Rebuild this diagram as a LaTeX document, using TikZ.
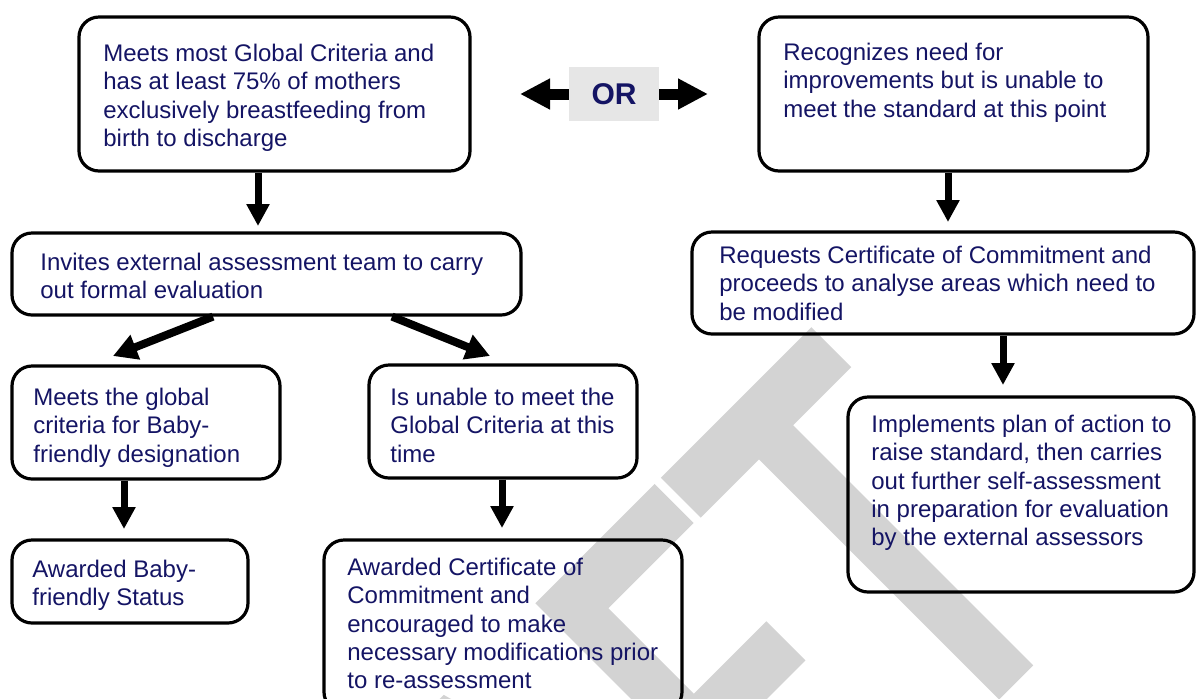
\documentclass[tikz,border=0pt]{standalone}
\usepackage{fontspec}
\setmainfont{Liberation Sans}
\newfontfamily\wmfont[FakeBold=2]{Carlito}
\usetikzlibrary{arrows.meta,fit}
\definecolor{navy}{RGB}{20,20,100}
\definecolor{wmgray}{RGB}{211,211,211}
\definecolor{orgray}{RGB}{230,230,230}
\begin{document}
\begin{tikzpicture}[x=0.5pt,y=-0.5pt,
  box/.style={draw=black, line width=1.6pt, rounded corners=10pt, inner sep=0pt},
  txt/.style={anchor=north west, inner sep=0pt, align=left, text=navy, font=\fontsize{12}{14.2}\selectfont},
  arr/.style={line width=3.5pt, -{Triangle[width=11pt,length=11pt]}},
  darr/.style={line width=4pt, -{Triangle[width=12.5pt,length=12pt]}},
  orarr/.style={line width=5.5pt, -{Triangle[width=14.5pt,length=15pt]}}
]
\useasboundingbox (0,0) rectangle (1196,698);
% watermark
\begin{scope}
\clip (0,0) rectangle (1196,698);
\begin{scope}[shift={(1088,602)}, rotate=45, yscale=1.36]
\node[transform shape, anchor=base east, inner sep=0pt, text=wmgray, font=\wmfont\fontsize{220}{220}\selectfont] (wm) at (0,0) {DRAFT};
\end{scope}
\end{scope}
% boxes
\node[box, fit={(79,17) (470,171)}] (b1) {};
\node[box, fit={(759,17) (1148,171)}] (b2) {};
\node[box, fit={(12,233) (521,315)}] (b3) {};
\node[box, fit={(692,232) (1194,334)}] (b4) {};
\node[box, fit={(12,366) (280,479)}] (b5) {};
\node[box, fit={(369,365) (637,478)}] (b6) {};
\node[box, fit={(12,540) (248,623)}] (b7) {};
\node[box, fit={(324,540) (682,712)}] (b8) {};
\node[box, fit={(848,397) (1194,592)}] (b9) {};
% texts
\node[txt] (t1) at (103,41) {\strut Meets most Global Criteria and\\has at least 75\% of mothers\\exclusively breastfeeding from\\birth to discharge};
\node[txt] (t2) at (783,40) {\strut Recognizes need for\\improvements but is unable to\\meet the standard at this point};
\node[txt] (t3) at (40,250) {\strut Invites external assessment team to carry\\out formal evaluation};
\node[txt] (t4) at (719,243) {\strut Requests Certificate of Commitment and\\proceeds to analyse areas which need to\\be modified};
\node[txt] (t5) at (33,385) {\strut Meets the global\\criteria for Baby-\\friendly designation};
\node[txt] (t6) at (390,385) {\strut Is unable to meet the\\Global Criteria at this\\time};
\node[txt] (t7) at (32,557) {\strut Awarded Baby-\\friendly Status};
\node[txt] (t8) at (347,555) {\strut Awarded Certificate of\\Commitment and\\encouraged to make\\necessary modifications prior\\to re-assessment};
\node[txt] (t9) at (871,412) {\strut Implements plan of action to\\raise standard, then carries\\out further self-assessment\\in preparation for evaluation\\by the external assessors};
% OR
\node[fill=orgray, minimum width=45pt, minimum height=27pt, inner sep=0pt, text=navy, font=\bfseries\fontsize{15}{18}\selectfont] (or) at (614,94) {OR};
\coordinate (orl) at (520,94);
\coordinate (orr) at (708,94);
\draw[orarr] (or.west) -- (orl);
\draw[orarr] (or.east) -- (orr);
% arrows
\coordinate (a13) at (258,226);
\coordinate (a24) at (948,222);
\coordinate (a49) at (1003,385);
\coordinate (a57) at (124,529);
\coordinate (a68) at (502,528);
\coordinate (s35) at (213,0);
\coordinate (s36) at (392,0);
\coordinate (a35) at (113,356);
\coordinate (a36) at (490,356);
\draw[arr] (b1.south -| a13) -- (a13);
\draw[arr] (b2.south -| a24) -- (a24);
\draw[arr] (b4.south -| a49) -- (a49);
\draw[arr] (b5.south -| a57) -- (a57);
\draw[arr] (b6.south -| a68) -- (a68);
\draw[darr] (b3.south -| s35) -- (a35);
\draw[darr] (b3.south -| s36) -- (a36);
\end{tikzpicture}
\end{document}
